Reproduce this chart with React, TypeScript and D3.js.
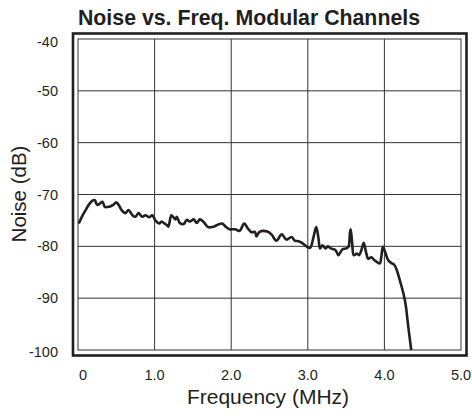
import React from "react";
import * as d3 from "d3";

const freq = [0.01, 0.05, 0.10, 0.14, 0.19, 0.22, 0.25, 0.29, 0.32, 0.35, 0.38, 0.42, 0.46, 0.50, 0.53, 0.57, 0.62, 0.66, 0.71, 0.75, 0.79, 0.84, 0.88, 0.93, 0.97, 1.01, 1.06, 1.09, 1.13, 1.16, 1.18, 1.22, 1.27, 1.29, 1.33, 1.38, 1.42, 1.46, 1.51, 1.55, 1.59, 1.64, 1.70, 1.77, 1.83, 1.88, 1.92, 1.98, 2.05, 2.11, 2.17, 2.22, 2.27, 2.31, 2.33, 2.37, 2.48, 2.53, 2.59, 2.66, 2.72, 2.79, 2.83, 2.88, 2.92, 2.99, 3.03, 3.07, 3.11, 3.14, 3.16, 3.19, 3.23, 3.26, 3.30, 3.36, 3.40, 3.45, 3.50, 3.53, 3.55, 3.56, 3.58, 3.60, 3.64, 3.67, 3.70, 3.73, 3.76, 3.79, 3.83, 3.87, 3.90, 3.94, 3.96, 3.98, 4.01, 4.05, 4.09, 4.13, 4.16, 4.21, 4.25, 4.28, 4.30, 4.32, 4.34, 4.35];
const noise = [-75.6, -74.3, -73.0, -72.0, -71.2, -71.1, -72.0, -71.7, -71.4, -72.4, -72.4, -72.3, -72.0, -71.5, -72.0, -73.0, -73.6, -73.0, -74.0, -74.3, -73.6, -74.3, -74.0, -74.4, -74.0, -75.0, -75.6, -75.2, -75.6, -75.9, -76.2, -74.0, -74.8, -74.3, -75.5, -75.7, -74.9, -75.2, -74.8, -75.5, -74.8, -75.3, -76.3, -76.2, -75.8, -75.6, -76.1, -76.7, -76.7, -77.0, -75.6, -76.6, -77.3, -77.2, -78.1, -77.2, -77.2, -77.8, -78.9, -77.7, -78.7, -78.2, -78.9, -79.0, -79.3, -80.1, -80.3, -78.5, -76.3, -78.5, -80.4, -79.8, -80.4, -80.0, -80.4, -80.7, -81.7, -80.6, -80.4, -80.1, -77.5, -76.7, -79.5, -81.7, -81.4, -81.7, -80.7, -79.3, -81.1, -82.4, -82.1, -82.7, -83.0, -83.3, -82.0, -80.1, -81.1, -82.7, -83.2, -83.6, -84.5, -87.0, -89.2, -91.5, -94.0, -96.5, -98.8, -100];

const xTicks = [0, 1, 2, 3, 4, 5];
const xTickLabels = ["0", "1.0", "2.0", "3.0", "4.0", "5.0"];
const yTicks = [-40, -50, -60, -70, -80, -90, -100];

const title = "Noise vs. Freq. Modular Channels";
const xTitle = "Frequency (MHz)";
const yTitle = "Noise (dB)";

export default function App() {
  const W = 472, H = 419;
  const left = 78, right = 461, top = 39, bottom = 350;
  const x = d3.scaleLinear().domain([0, 5]).range([left, right]);
  const y = d3.scaleLinear().domain([-100, -40]).range([bottom, top]);
  const pts: [number, number][] = freq.map((f, i) => [f, noise[i]]);
  const line = d3
    .line<[number, number]>()
    .x((d) => x(d[0]))
    .y((d) => y(d[1]))
    .curve(d3.curveCatmullRom.alpha(0.5));
  const font = "'Liberation Sans', Arial, Helvetica, sans-serif";
  const ink = "#231f20";
  return (
    <svg width={W} height={H} style={{ position: "absolute", left: 0, top: 0 }} fontFamily={font}>
      <rect x={0} y={0} width={W} height={H} fill="#fff" />
      <text x={249} y={25} textAnchor="middle" fontSize={21.3} fontWeight="bold" fill={ink}>
        {title}
      </text>
      {/* outer frame */}
      <rect x={left - 5} y={top - 5.5} width={right - left + 10.5} height={bottom - top + 11} fill="none" stroke={ink} strokeWidth={2.6} />
      {/* grid */}
      {xTicks.slice(1, -1).map((t) => (
        <line key={"gx" + t} x1={x(t)} x2={x(t)} y1={top} y2={bottom} stroke="#333" strokeWidth={1} />
      ))}
      {yTicks.slice(1, -1).map((t) => (
        <line key={"gy" + t} x1={left} x2={right} y1={y(t)} y2={y(t)} stroke="#333" strokeWidth={1} />
      ))}
      <rect x={left} y={top} width={right - left} height={bottom - top} fill="none" stroke="#333" strokeWidth={1} />
      <path d={line(pts) || ""} fill="none" stroke={ink} strokeWidth={2.6} strokeLinejoin="round" />
      {yTicks.map((t, i) => (
        <text key={"yt" + t} x={58} y={y(t) + (i === 0 ? 3 : i === yTicks.length - 1 ? 2 : 0)} dy="0.35em" textAnchor="end" fontSize={14.5} fill={ink}>
          {t}
        </text>
      ))}
      {xTicks.map((t, i) => (
        <text key={"xt" + t} x={x(t) + (i === 0 ? 5 : 0)} y={380} textAnchor="middle" fontSize={14.5} fill={ink}>
          {xTickLabels[i]}
        </text>
      ))}
      <text x={268} y={404} textAnchor="middle" fontSize={21} fill={ink}>
        {xTitle}
      </text>
      <text transform={`translate(26,194) rotate(-90)`} textAnchor="middle" fontSize={20.5} fill={ink}>
        {yTitle}
      </text>
    </svg>
  );
}
